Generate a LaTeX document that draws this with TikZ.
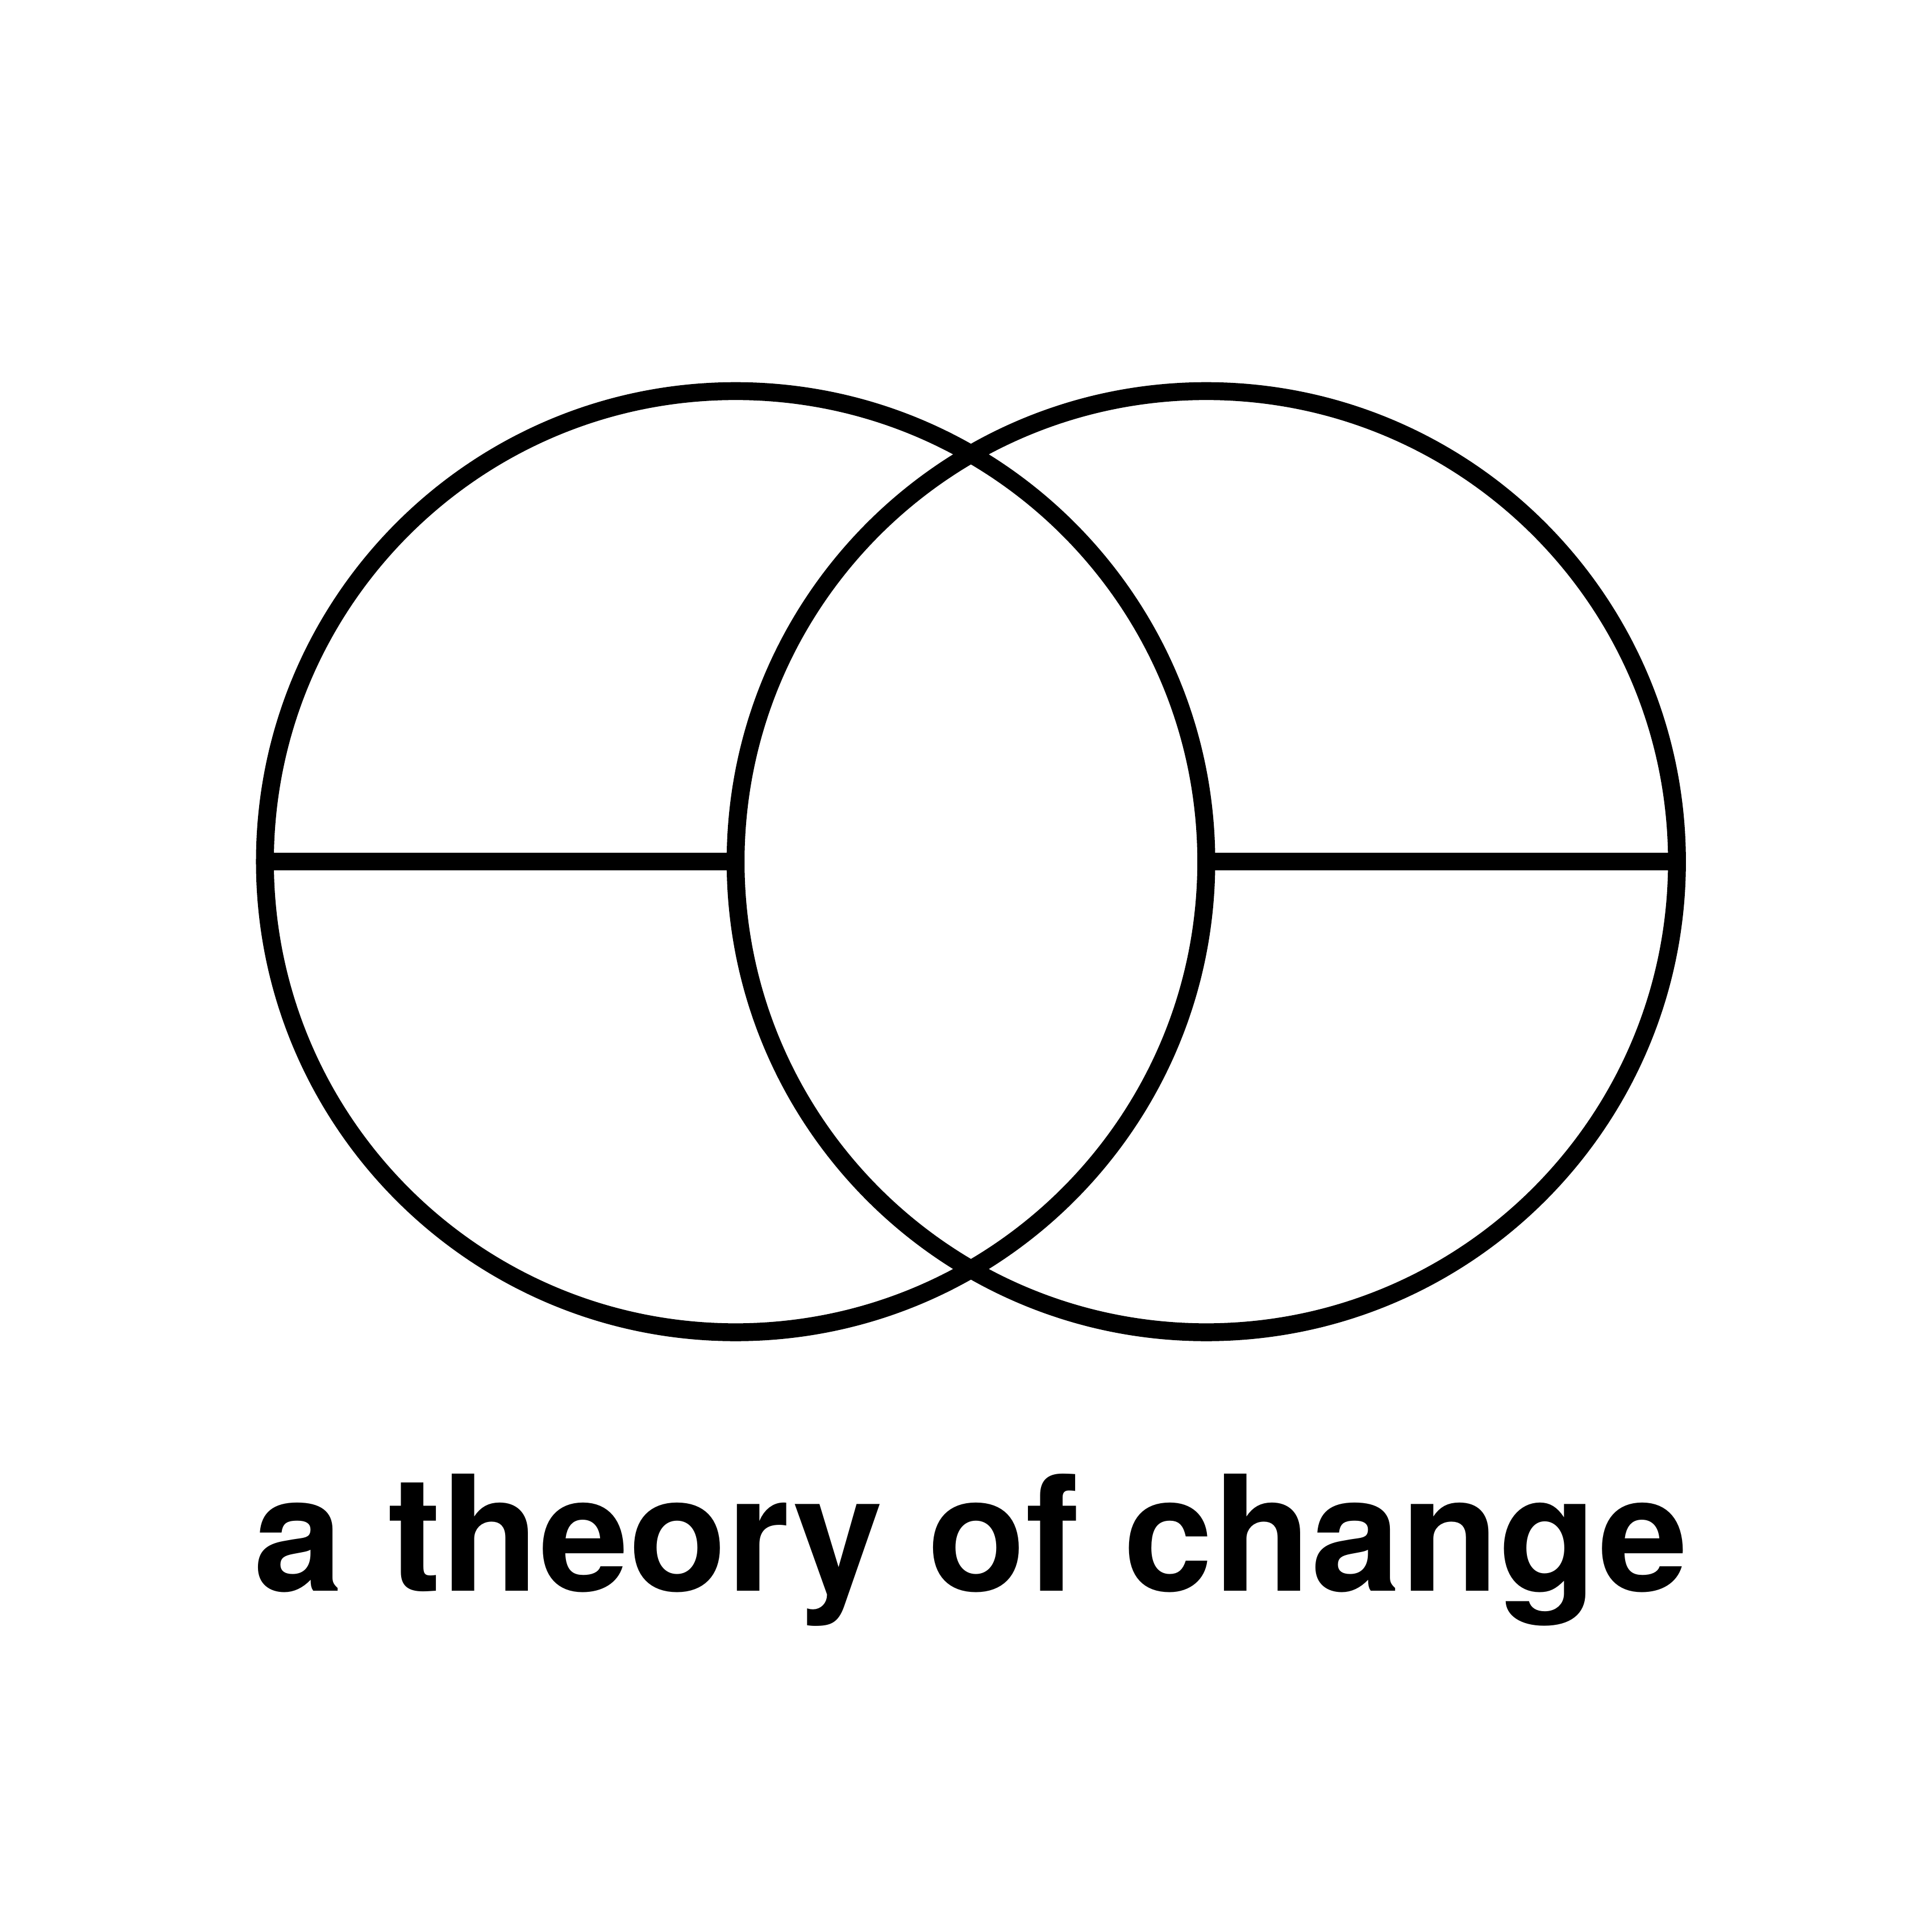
\documentclass[tikz,border=0pt]{standalone}
\usepackage{fontspec}
\setmainfont{TeX Gyre Heros}
\usepackage{tikz}
\usetikzlibrary{positioning}

\tikzset{
  ring/.style={circle, draw, line width=0.145cm, inner sep=0pt, outer sep=0pt, minimum size=7.64cm},
  bar/.style={line width=0.145cm},
  caption/.style={font=\fontsize{37.1}{40}\selectfont\bfseries, inner sep=0pt, anchor=base}
}

\begin{document}
\begin{tikzpicture}
\useasboundingbox (0,0) rectangle (15.68,15.675);
\node[ring] (left) at (5.97,8.68) {};
\node[ring] (right) at (9.79,8.68) {};
\draw[bar] (left.west) -- (left.center);
\draw[bar] (right.center) -- (right.east);
\node[caption] (title) at (7.88,2.76) {a theory of change};
\end{tikzpicture}
\end{document}
